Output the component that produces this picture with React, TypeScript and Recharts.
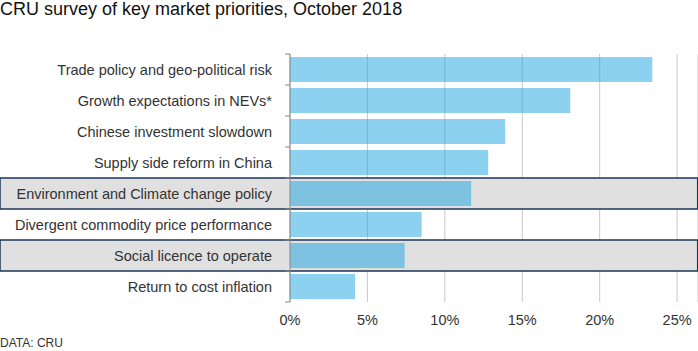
import React from 'react';
import { BarChart, Bar, XAxis, YAxis, CartesianGrid, ReferenceArea } from 'recharts';

const categories = [
  'Trade policy and geo-political risk',
  'Growth expectations in NEVs*',
  'Chinese investment slowdown',
  'Supply side reform in China',
  'Environment and Climate change policy',
  'Divergent commodity price performance',
  'Social licence to operate',
  'Return to cost inflation',
];
const shares = [23.4, 18.1, 13.9, 12.8, 11.7, 8.5, 7.4, 4.2];
const highlighted = ['Environment and Climate change policy', 'Social licence to operate'];
const xTicks = [0, 5, 10, 15, 20, 25];

const data = categories.map((name, i) => ({ name, value: shares[i] }));

const W = 698;
const H = 351;
const LABEL_W = 290;
const X_MAX = 26.35;
const MARGIN = { top: 54, right: 0, bottom: 19, left: 0 };
const X_AXIS_H = 30;
// the highlight boxes run across the label column too
const pxPerUnit = (W - LABEL_W) / X_MAX;
const leftValue = -LABEL_W / pxPerUnit;
const band = (H - MARGIN.top - MARGIN.bottom - X_AXIS_H) / categories.length;

const font = 'Liberation Sans, Arial, sans-serif';

// label plus small tick marks at the row boundaries (not the row centres)
const CategoryTick = (props: any) => {
  const { x, y, payload, index } = props;
  const last = index === categories.length - 1;
  return (
    <g>
      <line x1={LABEL_W - 5} x2={LABEL_W} y1={y - band / 2} y2={y - band / 2} stroke="#888" />
      {last && <line x1={LABEL_W - 5} x2={LABEL_W} y1={y + band / 2} y2={y + band / 2} stroke="#888" />}
      <text x={x} y={y} dy="0.355em" textAnchor="end" fill="#333" fontSize={14.5} fontFamily={font}>
        {payload.value}
      </text>
    </g>
  );
};

export default function App() {
  return (
    <div style={{ position: 'absolute', left: 0, top: 0, width: W, height: H, background: '#fff', fontFamily: font }}>
      <div style={{ position: 'absolute', left: 0, top: 0, fontSize: 18, lineHeight: '18px', color: '#111', whiteSpace: 'nowrap' }}>
        CRU survey of key market priorities, October 2018
      </div>
      <div style={{ position: 'absolute', left: 0, top: 336, fontSize: 12, color: '#333' }}>DATA: CRU</div>
      <BarChart
        width={W}
        height={H}
        data={data}
        layout="vertical"
        margin={MARGIN}
        barCategoryGap={3}
        style={{ position: 'absolute', left: 0, top: 0 }}
      >
        <CartesianGrid horizontal={false} stroke="#c8c8c8" strokeWidth={1} />
        {highlighted.map((h) => (
          <ReferenceArea
            key={h}
            y1={h}
            y2={h}
            x1={leftValue}
            x2={X_MAX - 0.02}
            ifOverflow="visible"
            fill="#e0e0e0"
            fillOpacity={1}
            stroke="#1d3658"
            strokeWidth={1.5}
          />
        ))}
        <XAxis
          type="number"
          domain={[0, X_MAX]}
          ticks={xTicks}
          tickFormatter={(v) => `${v}%`}
          axisLine={false}
          tickLine={false}
          tickSize={0}
          tickMargin={13}
          height={X_AXIS_H}
          tick={{ fill: '#333', fontSize: 14.5, fontFamily: font }}
        />
        <YAxis
          type="category"
          dataKey="name"
          width={LABEL_W}
          axisLine={{ stroke: '#888' }}
          tickLine={false}
          tickSize={0}
          tickMargin={18}
          interval={0}
          tick={<CategoryTick />}
        />
        <Bar dataKey="value" fill="#1aa3e0" fillOpacity={0.5} isAnimationActive={false} />
      </BarChart>
    </div>
  );
}
